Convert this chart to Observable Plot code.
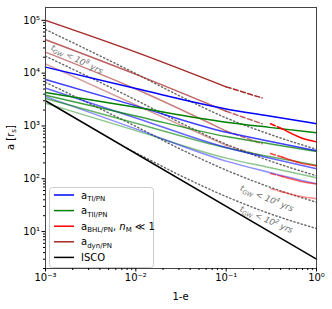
<!DOCTYPE html>
<html><head><meta charset="utf-8">
<script src="https://cdn.jsdelivr.net/npm/d3@7"></script>
<script src="https://cdn.jsdelivr.net/npm/@observablehq/plot@0.6"></script>
<style>body{margin:0;background:#fff;} svg{font-family:"DejaVu Sans",sans-serif;}</style>
</head><body><div id="chart"></div>
<script>
// ---- data ----
const xKnots = [0.001, 0.01, 0.1, 0.3, 1];
const aTI = [[1.3e4,5.1e3,2.1e3,1.55e3,1.1e3],[7.6e3,2.4e3,760,514,340],[5.2e3,1.42e3,390,247,155],[3.6e3,880,216,132,80]];
const aTII = [[4.3e3,2.25e3,1.18e3,940,745],[3.8e3,1.55e3,630,460,330],[3.3e3,1.13e3,386,264,180],[2.7e3,815,246,163,105]];
const bhlDashX = [0.31, 0.42];
const bhlSolidX = [0.42, 0.67, 1];
const aBHLdash = [[1.1e3,880],[300,255],[126,110],[65,56]];
const aBHLsolid = [[880,600,500],[255,198,175],[110,89,80],[56,46,42]];
const dynSolidX = [0.001, 0.01, 0.1];
const dynDashX = [0.1, 0.25];
const aDynSolid = [[1e5,2.5e4,5.5e3],[4.3e4,9.5e3,1.9e3],[2.5e4,5e3,800],[1.5e4,2.5e3,430]];
const aDynDash = [[5.5e3,3.4e3],[1.9e3,1.1e3],[800,460],[430,270]];
const iscoX = [0.001, 1];
const iscoA = [3000, 3];
const tgwX = [0.001, 0.01, 0.03, 0.1, 0.3, 1];
const tgw8 = [6.7e4, 9.8e3, 3.76e3, 1.42e3, 700, 360];
const tgw6 = [2.1e4, 3.1e3, 1.19e3, 450, 220, 114];
const tgw4 = [6.7e3, 980, 376, 146, 70, 36];
const tgw2X = [0.008, 0.01, 0.03, 0.1, 0.3, 1];
const tgw2 = [375, 310, 119, 46, 22, 11.4];
const groupAlpha = [1, 0.75, 0.6, 0.45];
const tgwLabels = [{exp:"8", x:0.00226, y:1.8e4, rot:26},{exp:"4", x:0.287, y:42, rot:22},{exp:"2", x:0.283, y:16.6, rot:23}];
const xTicks = [1e-3, 1e-2, 1e-1, 1];
const xTickText = ["10⁻³","10⁻²","10⁻¹","10⁰"];
const yTicks = [1e1, 1e2, 1e3, 1e4, 1e5];
const yTickText = ["10¹","10²","10³","10⁴","10⁵"];
const legendItems = [
  {color:"blue", sub:"TI/PN", extra:false},
  {color:"green", sub:"TII/PN", extra:false},
  {color:"red", sub:"BHL/PN", extra:true},
  {color:"brown", sub:"dyn/PN", extra:false},
  {color:"black", sub:null, extra:false}
];

// ---- build ----
const W = 332, H = 309, mL = 45, mR = 16, mT = 7, mB = 41;
const yDomain = [2.0, 1.75e5];
const pts = (xs, ys) => xs.map((x, i) => ({x, y: ys[i]}));
const minorX = [], minorY = [];
for (let e = -3; e < 0; e++) for (let k = 2; k <= 9; k++) minorX.push(k * 10 ** e);
for (let e = 0; e <= 4; e++) for (let k = 2; k <= 9; k++) { const v = k * 10 ** e; if (v >= yDomain[0] && v <= yDomain[1]) minorY.push(v); }

const marks = [];
const dotted = {stroke:"#666", strokeWidth:1.4, strokeDasharray:"1.3,2.5", curve:"monotone-x"};
[tgw8, tgw6, tgw4].forEach(v => marks.push(Plot.line(pts(tgwX, v), {x:"x", y:"y", ...dotted})));
marks.push(Plot.line(pts(tgw2X, tgw2), {x:"x", y:"y", ...dotted}));
const lw = 1.5;
for (let g = 3; g >= 0; g--) {
  const a = groupAlpha[g];
  marks.push(Plot.line(pts(xKnots, aTII[g]), {x:"x", y:"y", stroke:"green", strokeOpacity:a, strokeWidth:lw, curve:"monotone-x"}));
  marks.push(Plot.line(pts(xKnots, aTI[g]), {x:"x", y:"y", stroke:"blue", strokeOpacity:a, strokeWidth:lw, curve:"monotone-x"}));
  marks.push(Plot.line(pts(bhlDashX, aBHLdash[g]), {x:"x", y:"y", stroke:"red", strokeOpacity:a, strokeWidth:lw, strokeDasharray:"5,2.5"}));
  marks.push(Plot.line(pts(bhlSolidX, aBHLsolid[g]), {x:"x", y:"y", stroke:"red", strokeOpacity:a, strokeWidth:lw, curve:"monotone-x"}));
  marks.push(Plot.line(pts(dynSolidX, aDynSolid[g]), {x:"x", y:"y", stroke:"brown", strokeOpacity:a, strokeWidth:lw, curve:"monotone-x"}));
  marks.push(Plot.line(pts(dynDashX, aDynDash[g]), {x:"x", y:"y", stroke:"brown", strokeOpacity:a, strokeWidth:lw, strokeDasharray:"5,2.5"}));
}
marks.push(Plot.line(pts(iscoX, iscoA), {x:"x", y:"y", stroke:"black", strokeWidth:lw}));
marks.push(Plot.frame({stroke:"#444", strokeWidth:1}));
marks.push(Plot.axisX({ticks:xTicks, tickFormat:(d)=>xTickText[xTicks.indexOf(d)], tickSize:3.5, fontSize:10, tickPadding:2, label:null}));
marks.push(Plot.axisX({ticks:minorX, tickFormat:()=>"", tickSize:2, label:null}));
marks.push(Plot.axisY({ticks:yTicks, tickFormat:(d)=>yTickText[yTicks.indexOf(d)], tickSize:3.5, fontSize:10, tickPadding:2, label:null}));
marks.push(Plot.axisY({ticks:minorY, tickFormat:()=>"", tickSize:2, label:null}));

const chart = Plot.plot({
  width: W, height: H, marginLeft: mL, marginRight: mR, marginTop: mT, marginBottom: mB,
  style: {fontFamily: "DejaVu Sans, sans-serif", background: "#fff", color:"#000"},
  x: {type:"log", domain:[1e-3, 1], label:null},
  y: {type:"log", domain:yDomain, label:null},
  marks
});
document.getElementById("chart").appendChild(chart);

const svg = d3.select(chart);
const xs = d3.scaleLog().domain([1e-3, 1]).range([mL, W - mR]);
const ys = d3.scaleLog().domain(yDomain).range([H - mB, mT]);

// t_GW labels
tgwLabels.forEach(l => {
  const t = svg.append("text").attr("transform", `translate(${xs(l.x)},${ys(l.y)}) rotate(${l.rot})`)
    .attr("text-anchor","middle").attr("dy","0.35em").attr("fill","#707070").attr("font-size",8.5)
    .attr("font-style","italic");
  t.append("tspan").text("t");
  t.append("tspan").attr("font-size",6).attr("dy",2).text("GW");
  t.append("tspan").attr("dy",-2).text(" < 10");
  t.append("tspan").attr("font-size",6).attr("dy",-3.5).text(l.exp);
  t.append("tspan").attr("dy",3.5).text(" yrs");
});

// axis titles
svg.append("text").attr("x", (mL + W - mR) / 2).attr("y", 300).attr("text-anchor","middle").attr("font-size",10).attr("fill","#000").text("1-e");
const yl = svg.append("text").attr("transform", `translate(14,${(mT + H - mB) / 2}) rotate(-90)`).attr("text-anchor","middle").attr("font-size",10).attr("fill","#000");
yl.append("tspan").text("a [r");
yl.append("tspan").attr("font-size",7).attr("dy",2).text("s");
yl.append("tspan").attr("dy",-2).text("]");

// legend
const lg = svg.append("g").attr("text-anchor","start");
lg.append("rect").attr("x",49.5).attr("y",187.5).attr("width",104).attr("height",80).attr("rx",3)
  .attr("fill","#fff").attr("fill-opacity",0.85).attr("stroke","#ccc");
legendItems.forEach((it, i) => {
  const y = 195 + i * 15.6;
  lg.append("line").attr("x1",54).attr("x2",74).attr("y1",y).attr("y2",y).attr("stroke",it.color).attr("stroke-width",1.5);
  const t = lg.append("text").attr("x",81).attr("y",y + 3.5).attr("font-size",10).attr("text-anchor","start").attr("fill","#000");
  if (it.sub === null) { t.text("ISCO"); return; }
  t.append("tspan").text("a");
  t.append("tspan").attr("font-size",7).attr("dy",2.5).text(it.sub);
  if (it.extra) {
    t.append("tspan").attr("dy",-2.5).text(", ");
    t.append("tspan").attr("font-style","italic").text("n");
    t.append("tspan").attr("font-size",7).attr("dy",2.5).text("M");
    t.append("tspan").attr("dy",-2.5).text(" ≪ 1");
  }
});
</script></body></html>
